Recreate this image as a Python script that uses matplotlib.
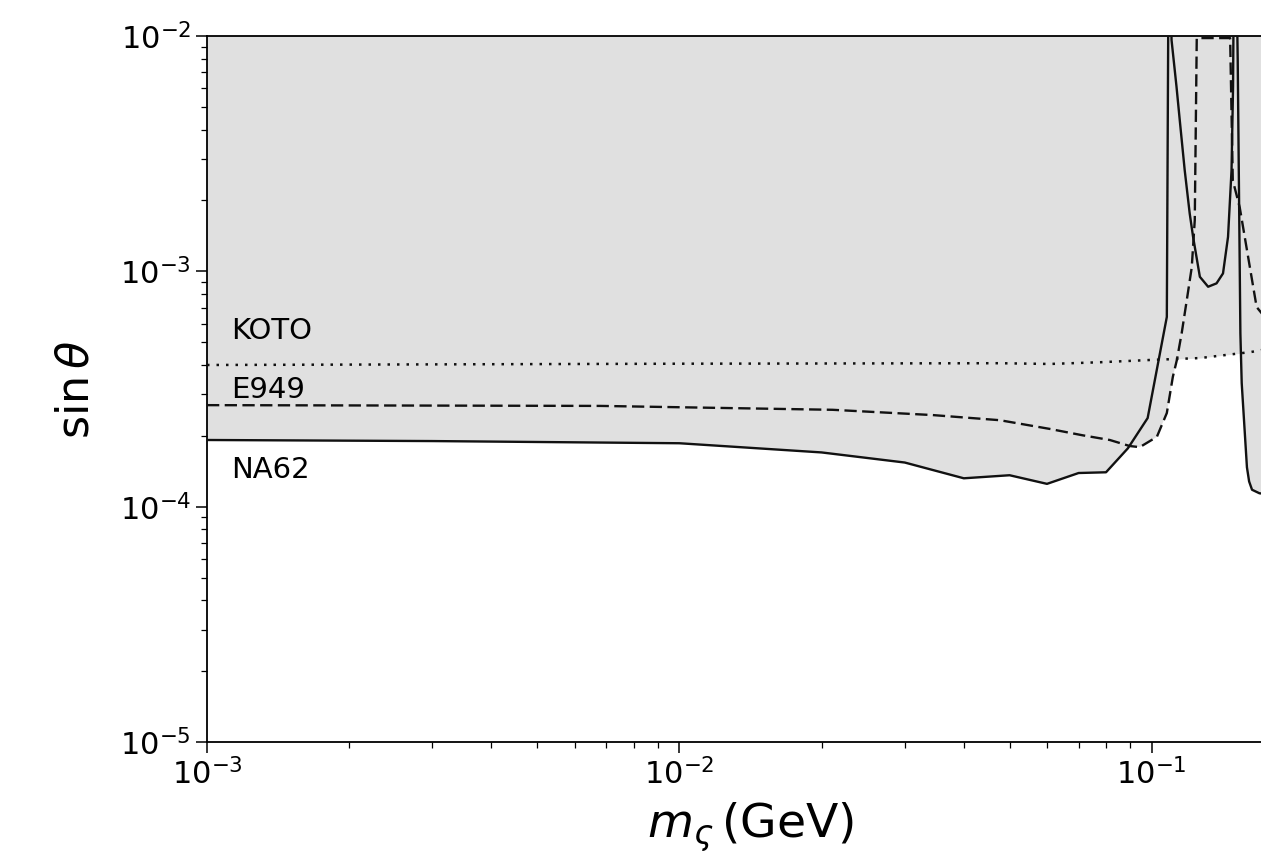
import numpy as np
import matplotlib
matplotlib.use("Agg")
import matplotlib.pyplot as plt

# NA62 bound (solid)
na62_m = [1e-3, 3e-3, 1e-2, 0.02, 0.03, 0.04, 0.05, 0.06, 0.07, 0.08, 0.089,
          0.098, 0.1076, 0.1085, 0.1095, 0.1101, 0.1128, 0.1146, 0.1174,
          0.1203, 0.1223, 0.1264, 0.1316, 0.1371, 0.1415, 0.1450, 0.1475,
          0.1486, 0.1492, 0.151, 0.152, 0.154, 0.155, 0.159, 0.1607, 0.163,
          0.169, 0.2]
na62_s = [1.92e-4, 1.90e-4, 1.86e-4, 1.70e-4, 1.54e-4, 1.32e-4, 1.36e-4,
          1.25e-4, 1.39e-4, 1.40e-4, 1.77e-4, 2.38e-4, 6.4e-4, 2e-2, 2e-2,
          9.62e-3, 6.09e-3, 4.39e-3, 2.69e-3, 1.76e-3, 1.40e-3, 9.48e-4,
          8.60e-4, 8.89e-4, 9.80e-4, 1.40e-3, 2.69e-3, 6.09e-3, 2e-2, 2e-2,
          8e-3, 5.45e-4, 3.35e-4, 1.47e-4, 1.28e-4, 1.18e-4, 1.14e-4, 1.10e-4]

# E949 bound (dashed)
e949_m = [1e-3, 6.8e-3, 0.0211, 0.0344, 0.0477, 0.0608, 0.0714, 0.0815,
          0.0898, 0.0943, 0.1025, 0.1076, 0.1108, 0.113, 0.1157, 0.1186,
          0.1215, 0.1233, 0.1245, 0.1465, 0.1484, 0.1535, 0.1667, 0.2]
e949_s = [2.70e-4, 2.68e-4, 2.58e-4, 2.45e-4, 2.33e-4, 2.14e-4, 2.01e-4,
          1.92e-4, 1.81e-4, 1.79e-4, 1.98e-4, 2.50e-4, 3.56e-4, 4.2e-4,
          5.47e-4, 7.55e-4, 1.04e-3, 1.65e-3, 9.8e-3, 9.8e-3, 2.44e-3,
          1.87e-3, 7.05e-4, 4.5e-4]

# KOTO bound (dotted)
koto_m = [1e-3, 0.01, 0.0477, 0.0608, 0.078, 0.099, 0.1264, 0.162, 0.2]
koto_s = [4.0e-4, 4.05e-4, 4.07e-4, 4.04e-4, 4.11e-4, 4.2e-4, 4.28e-4,
          4.54e-4, 4.9e-4]

labels = ["KOTO", "E949", "NA62"]
label_y = [5.57e-4, 3.13e-4, 1.43e-4]

fig = plt.figure(figsize=(12.61, 8.59), dpi=100)
# axes run past the right edge of the picture, as in the cropped original
ax = fig.add_axes([207 / 1261, 1 - 742 / 859, (1294 - 207) / 1261, (742 - 36) / 859])

grey = "#e0e0e0"
for m, s in [(na62_m, na62_s), (e949_m, e949_s), (koto_m, koto_s)]:
    ax.fill_between(m, s, 1.0, color=grey, linewidth=0, zorder=1)

ax.plot(na62_m, na62_s, color="#111111", lw=1.7, zorder=3)
ax.plot(e949_m, e949_s, color="#111111", lw=1.7, linestyle=(0, (5.2, 2.3)), zorder=3)
ax.plot(koto_m, koto_s, color="#111111", lw=1.8, linestyle=(0, (1, 2.8)), zorder=3)

for lab, yy in zip(labels, label_y):
    ax.text(1.124e-3, yy, lab, fontsize=21, va="center", ha="left", zorder=4)

ax.set_xscale("log")
ax.set_yscale("log")
ax.set_xlim(1e-3, 0.2)
ax.set_ylim(1e-5, 1e-2)

ax.set_xlabel(r"$m_\varsigma\,$(GeV)", fontsize=34, labelpad=7)
ax.set_ylabel(r"$\sin\theta$", fontsize=32, labelpad=16)
ax.tick_params(which="major", labelsize=22, length=8, width=1.1)
ax.tick_params(which="minor", length=4.5, width=0.9)
for sp in ax.spines.values():
    sp.set_linewidth(1.3)

fig.savefig("out.png", dpi=100)
